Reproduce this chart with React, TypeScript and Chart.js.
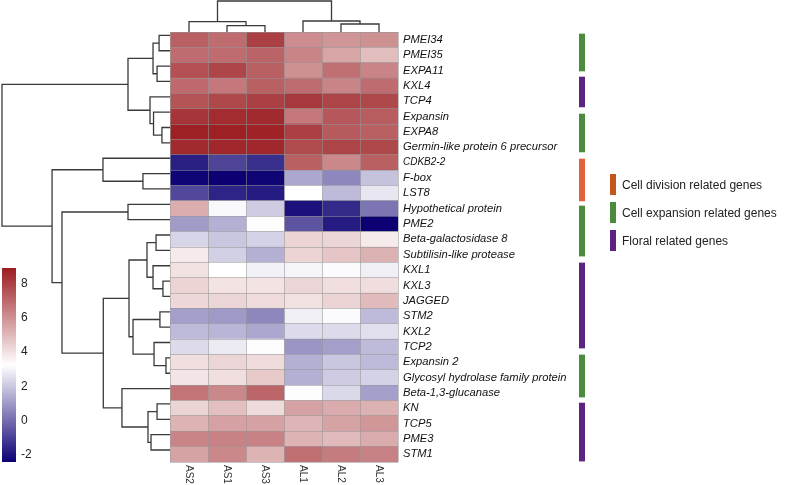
import React, { useEffect, useRef } from 'react';
import { Chart, registerables } from 'chart.js';

Chart.register(...registerables);

// ---------------- DATA ----------------
const rowLabels = [
  'PMEI34', 'PMEI35', 'EXPA11', 'KXL4', 'TCP4', 'Expansin', 'EXPA8',
  'Germin-like protein 6 precursor', 'CDKB2-2', 'F-box', 'LST8',
  'Hypothetical protein', 'PME2', 'Beta-galactosidase 8', 'Subtilisin-like protease',
  'KXL1', 'KXL3', 'JAGGED', 'STM2', 'KXL2', 'TCP2', 'Expansin 2',
  'Glycosyl hydrolase family protein', 'Beta-1,3-glucanase', 'KN', 'TCP5', 'PME3', 'STM1',
];

const colLabels = ['AS2', 'AS1', 'AS3', 'AL1', 'AL2', 'AL3'];

const valuesAS2 = [7.2, 6.9, 7.6, 6.95, 7.5, 8.3, 8.8, 8.55, -1.7, -2.3, -0.8, 5.3, 1.05, 2.3, 3.75, 4.0, 4.35, 4.25, 1.15, 1.75, 2.45, 4.05, 3.9, 6.7, 4.35, 5.15, 6.3, 5.55];
const valuesAS1 = [6.9, 6.9, 7.85, 6.6, 7.8, 8.5, 8.8, 8.6, -0.9, -2.4, -1.6, 3.1, 1.5, 2.0, 2.2, 3.25, 3.95, 4.3, 1.0, 1.6, 2.8, 4.3, 4.05, 6.2, 4.85, 5.6, 6.35, 6.2];
const valuesAS3 = [8.0, 7.1, 7.2, 7.2, 8.0, 8.55, 8.75, 8.6, -1.35, -2.3, -1.8, 2.1, 3.2, 2.25, 1.5, 2.95, 3.95, 4.15, 0.6, 1.3, 3.3, 4.15, 4.6, 7.05, 4.15, 5.6, 6.35, 5.15];
const valuesAL1 = [6.1, 6.3, 6.0, 6.9, 8.2, 6.6, 8.0, 7.75, 7.2, 1.3, 3.25, -2.05, -0.55, 4.35, 4.35, 3.0, 4.3, 4.0, 2.9, 2.45, 0.9, 1.5, 1.5, 3.2, 5.6, 5.1, 5.15, 6.8];
const valuesAL2 = [5.9, 5.5, 6.8, 6.3, 7.9, 7.4, 7.35, 7.9, 6.2, 0.6, 1.75, -1.5, -1.8, 4.3, 4.7, 3.15, 4.05, 4.35, 3.15, 2.45, 1.1, 2.0, 2.1, 2.4, 5.35, 5.55, 4.95, 6.5];
const valuesAL3 = [6.0, 4.9, 6.3, 6.9, 7.8, 7.3, 7.2, 7.8, 7.2, 1.9, 2.7, 0.2, -2.4, 3.75, 5.2, 2.9, 4.1, 4.95, 1.75, 2.55, 1.75, 1.7, 2.25, 1.15, 5.2, 5.85, 5.35, 6.4];
const columnValues = [valuesAS2, valuesAS1, valuesAS3, valuesAL1, valuesAL2, valuesAL3];

const valueMin = -2.4;
const valueMax = 8.9;
const colorbarTicks = [-2, 0, 2, 4, 6, 8];

// row dendrogram merges: [childA, childB, height]; leaves 0..27, new nodes 28+
const rowMerges = [
  [0, 1, 0.65], [2, 3, 0.77], [28, 29, 1.01], [6, 7, 0.48], [5, 31, 0.98],
  [4, 32, 1.19], [30, 33, 2.5], [9, 10, 1.61], [8, 35, 3.99], [11, 12, 2.5],
  [13, 14, 0.83], [16, 17, 0.42], [15, 39, 1.01], [38, 40, 1.37], [18, 19, 0.6],
  [21, 22, 0.24], [20, 43, 0.95], [42, 44, 2.2], [41, 45, 2.44], [24, 25, 0.77],
  [26, 27, 1.13], [47, 48, 1.31], [23, 49, 2.86], [46, 50, 3.97], [37, 51, 6.43],
  [36, 52, 7.02], [34, 53, 10],
];
const rowDendroMax = 10;
const rowLeafShift = 0.28;

// column dendrogram merges: leaves 0..5, new nodes 6+
const colMerges = [
  [1, 2, 2.03], [0, 6, 3.32], [4, 5, 2.58], [3, 8, 3.55], [7, 9, 10],
];
const colDendroMax = 10;

// gene group annotation bars (row units)
const groupNames = ['Cell division related genes', 'Cell expansion related genes', 'Floral related genes'];
const groupColors = ['#E0623E', '#4B8C3C', '#5C2382'];
const legendColors = ['#C4571D', '#4B8C3C', '#5C2382'];
const segmentGroup = [1, 2, 1, 0, 1, 2, 1, 2];
const segmentStart = [0.13, 2.93, 5.34, 8.27, 11.33, 15.04, 21.03, 24.16];
const segmentEnd = [2.54, 4.88, 7.81, 11.0, 14.59, 20.58, 23.77, 27.94];

// ---------------- HELPERS ----------------
const FONT = '"Liberation Sans", Arial, Helvetica, sans-serif';
const lowColor = [12, 0, 115];
const highColor = [155, 28, 32];
const midValue = (valueMin + valueMax) / 2;

function colorFor(v: number): string {
  let t: number;
  let c: number[];
  if (v >= midValue) {
    t = Math.min(1, (v - midValue) / (valueMax - midValue));
    c = highColor;
  } else {
    t = Math.min(1, (midValue - v) / (midValue - valueMin));
    c = lowColor;
  }
  const r = Math.round(255 + (c[0] - 255) * t);
  const g = Math.round(255 + (c[1] - 255) * t);
  const b = Math.round(255 + (c[2] - 255) * t);
  return `rgb(${r},${g},${b})`;
}

function buildDendro(nLeaves: number, merges: number[][], leafPos: number[]) {
  const pos = [...leafPos];
  const h: number[] = new Array(nLeaves).fill(0);
  const segs: { h: number; p: number }[][] = [];
  merges.forEach(([a, b, height]) => {
    segs.push([
      { h: h[a], p: pos[a] },
      { h: height, p: pos[a] },
      { h: height, p: pos[b] },
      { h: h[b], p: pos[b] },
    ]);
    pos.push((pos[a] + pos[b]) / 2);
    h.push(height);
  });
  return segs;
}

const LINE = '#3a3a3a';
const GRID = 'rgba(150,150,150,0.55)';

function ChartBox(props: { left: number; top: number; width: number; height: number; make: () => any }) {
  const ref = useRef<HTMLCanvasElement | null>(null);
  useEffect(() => {
    if (!ref.current) return;
    const chart = new Chart(ref.current, props.make());
    return () => chart.destroy();
  }, []);
  return (
    <div style={{ position: 'absolute', left: props.left, top: props.top, width: props.width, height: props.height }}>
      <canvas ref={ref} width={props.width} height={props.height} style={{ display: 'block', width: props.width, height: props.height }} />
    </div>
  );
}

// ---------------- CHART CONFIGS ----------------
const xLabelPlugin = {
  id: 'xLabels',
  afterDraw(chart: any) {
    const { ctx, chartArea, scales } = chart;
    ctx.save();
    ctx.font = `10px ${FONT}`;
    ctx.fillStyle = '#333';
    ctx.textAlign = 'left';
    ctx.textBaseline = 'middle';
    colLabels.forEach((lab, c) => {
      const x = scales.x.getPixelForValue(c + 0.5);
      ctx.save();
      ctx.translate(x, chartArea.bottom + 3);
      ctx.rotate(Math.PI / 2);
      ctx.fillText(lab, 0, 0);
      ctx.restore();
    });
    ctx.restore();
  },
};

function heatmapConfig() {
  return {
    type: 'bar',
    data: {
      labels: rowLabels,
      datasets: colLabels.map((name, c) => ({
        label: name,
        data: rowLabels.map(() => [c, c + 1]),
        backgroundColor: columnValues[c].map(colorFor),
        borderWidth: 0,
        barPercentage: 1,
        categoryPercentage: 1,
        grouped: false,
      })),
    },
    options: {
      indexAxis: 'y',
      animation: false,
      responsive: false,
      layout: { padding: { left: 170, top: 32, right: 0, bottom: 0 } },
      scales: {
        x: {
          type: 'linear',
          min: 0,
          max: 6,
          position: 'bottom',
          ticks: { display: false, stepSize: 1 },
          grid: { color: GRID, z: 1, drawTicks: false, lineWidth: 1 },
          border: { display: false },
          afterFit: (s: any) => { s.height = 23; },
        },
        y: {
          type: 'category',
          position: 'right',
          offset: true,
          grid: { offset: true, color: GRID, z: 1, drawTicks: false, lineWidth: 1 },
          border: { display: false },
          ticks: {
            autoSkip: false,
            padding: 5,
            color: '#111',
            font: (ctx: any) => ({ family: FONT, size: rowLabels[ctx.index] === 'CDKB2-2' ? 10 : 11.2, style: 'italic' }),
          },
          afterFit: (s: any) => { s.width = 389; },
        },
      },
      plugins: { legend: { display: false }, tooltip: { enabled: false } },
    },
    plugins: [xLabelPlugin],
  };
}

function rowDendroConfig() {
  const leafPos = rowLabels.map((_, i) => i + 0.5 - rowLeafShift);
  const segs = buildDendro(rowLabels.length, rowMerges, leafPos);
  return {
    type: 'scatter',
    data: {
      datasets: segs.map((s) => ({
        data: s.map((pt) => ({ x: pt.h, y: pt.p })),
        showLine: true,
        borderColor: LINE,
        borderWidth: 1.3,
        pointRadius: 0,
        tension: 0,
        clip: false,
      })),
    },
    options: {
      animation: false,
      responsive: false,
      layout: { padding: { left: 2, right: 2, top: 32, bottom: 23 } },
      scales: {
        x: { type: 'linear', min: 0, max: rowDendroMax, reverse: true, display: false },
        y: { type: 'linear', min: 0, max: rowLabels.length, reverse: true, display: false },
      },
      plugins: { legend: { display: false }, tooltip: { enabled: false } },
    },
  };
}

function colDendroConfig() {
  const leafPos = colLabels.map((_, i) => i + 0.5);
  const segs = buildDendro(colLabels.length, colMerges, leafPos);
  return {
    type: 'scatter',
    data: {
      datasets: segs.map((s) => ({
        data: s.map((pt) => ({ x: pt.p, y: pt.h })),
        showLine: true,
        borderColor: LINE,
        borderWidth: 1.3,
        pointRadius: 0,
        tension: 0,
        clip: false,
      })),
    },
    options: {
      animation: false,
      responsive: false,
      layout: { padding: { left: 170, right: 389, top: 1, bottom: 2 } },
      scales: {
        x: { type: 'linear', min: 0, max: colLabels.length, display: false },
        y: { type: 'linear', min: 0, max: colDendroMax, display: false },
      },
      plugins: { legend: { display: false }, tooltip: { enabled: false } },
    },
  };
}

function colorbarConfig() {
  return {
    type: 'bar',
    data: {
      labels: [''],
      datasets: [{
        data: [[valueMin, valueMax]],
        backgroundColor: (ctx: any) => {
          const chart = ctx.chart;
          if (!chart.chartArea || !chart.scales.y) return '#fff';
          const y0 = chart.scales.y.getPixelForValue(valueMin);
          const y1 = chart.scales.y.getPixelForValue(valueMax);
          const g = chart.ctx.createLinearGradient(0, y0, 0, y1);
          g.addColorStop(0, colorFor(valueMin));
          g.addColorStop(0.5, colorFor(midValue));
          g.addColorStop(1, colorFor(valueMax));
          return g;
        },
        borderWidth: 0,
        barPercentage: 1,
        categoryPercentage: 1,
      }],
    },
    options: {
      animation: false,
      responsive: false,
      layout: { padding: { left: 2, top: 268, bottom: 23, right: 0 } },
      scales: {
        x: { display: false },
        y: {
          type: 'linear',
          min: valueMin,
          max: valueMax,
          position: 'right',
          grid: { display: false, drawTicks: false },
          border: { display: false },
          ticks: { padding: 5, color: '#222', font: { family: FONT, size: 12 } },
          afterBuildTicks: (s: any) => { s.ticks = colorbarTicks.map((v) => ({ value: v })); },
          afterFit: (s: any) => { s.width = 44; },
        },
      },
      plugins: { legend: { display: false }, tooltip: { enabled: false } },
    },
  };
}

function annotationConfig() {
  return {
    type: 'bar',
    data: {
      labels: ['group'],
      datasets: segmentStart.map((st, i) => ({
        label: groupNames[segmentGroup[i]],
        data: [[st, segmentEnd[i]]],
        backgroundColor: groupColors[segmentGroup[i]],
        borderWidth: 0,
        barPercentage: 1,
        categoryPercentage: 1,
        grouped: false,
      })),
    },
    options: {
      animation: false,
      responsive: false,
      layout: { padding: { left: 5, right: 5, top: 32, bottom: 23 } },
      scales: {
        x: { display: false },
        y: { type: 'linear', min: 0, max: rowLabels.length, reverse: true, display: false },
      },
      plugins: { legend: { display: false }, tooltip: { enabled: false } },
    },
  };
}

export default function App() {
  return (
    <div style={{ position: 'absolute', left: 0, top: 0, width: 787, height: 485, background: '#fff', overflow: 'hidden' }}>
      <ChartBox left={0} top={0} width={787} height={485} make={heatmapConfig} />
      <ChartBox left={0} top={0} width={172} height={485} make={rowDendroConfig} />
      <ChartBox left={0} top={0} width={787} height={34} make={colDendroConfig} />
      <ChartBox left={0} top={0} width={60} height={485} make={colorbarConfig} />
      <ChartBox left={574} top={0} width={16} height={485} make={annotationConfig} />
      {groupNames.map((name, i) => (
        <div key={name} style={{ position: 'absolute', left: 610, top: 174 + i * 28, height: 21, display: 'flex', alignItems: 'center' }}>
          <div style={{ width: 6, height: 21, background: legendColors[i] }} />
          <span style={{ marginLeft: 6, fontFamily: FONT, fontSize: 12, color: '#222', whiteSpace: 'nowrap' }}>{name}</span>
        </div>
      ))}
    </div>
  );
}
